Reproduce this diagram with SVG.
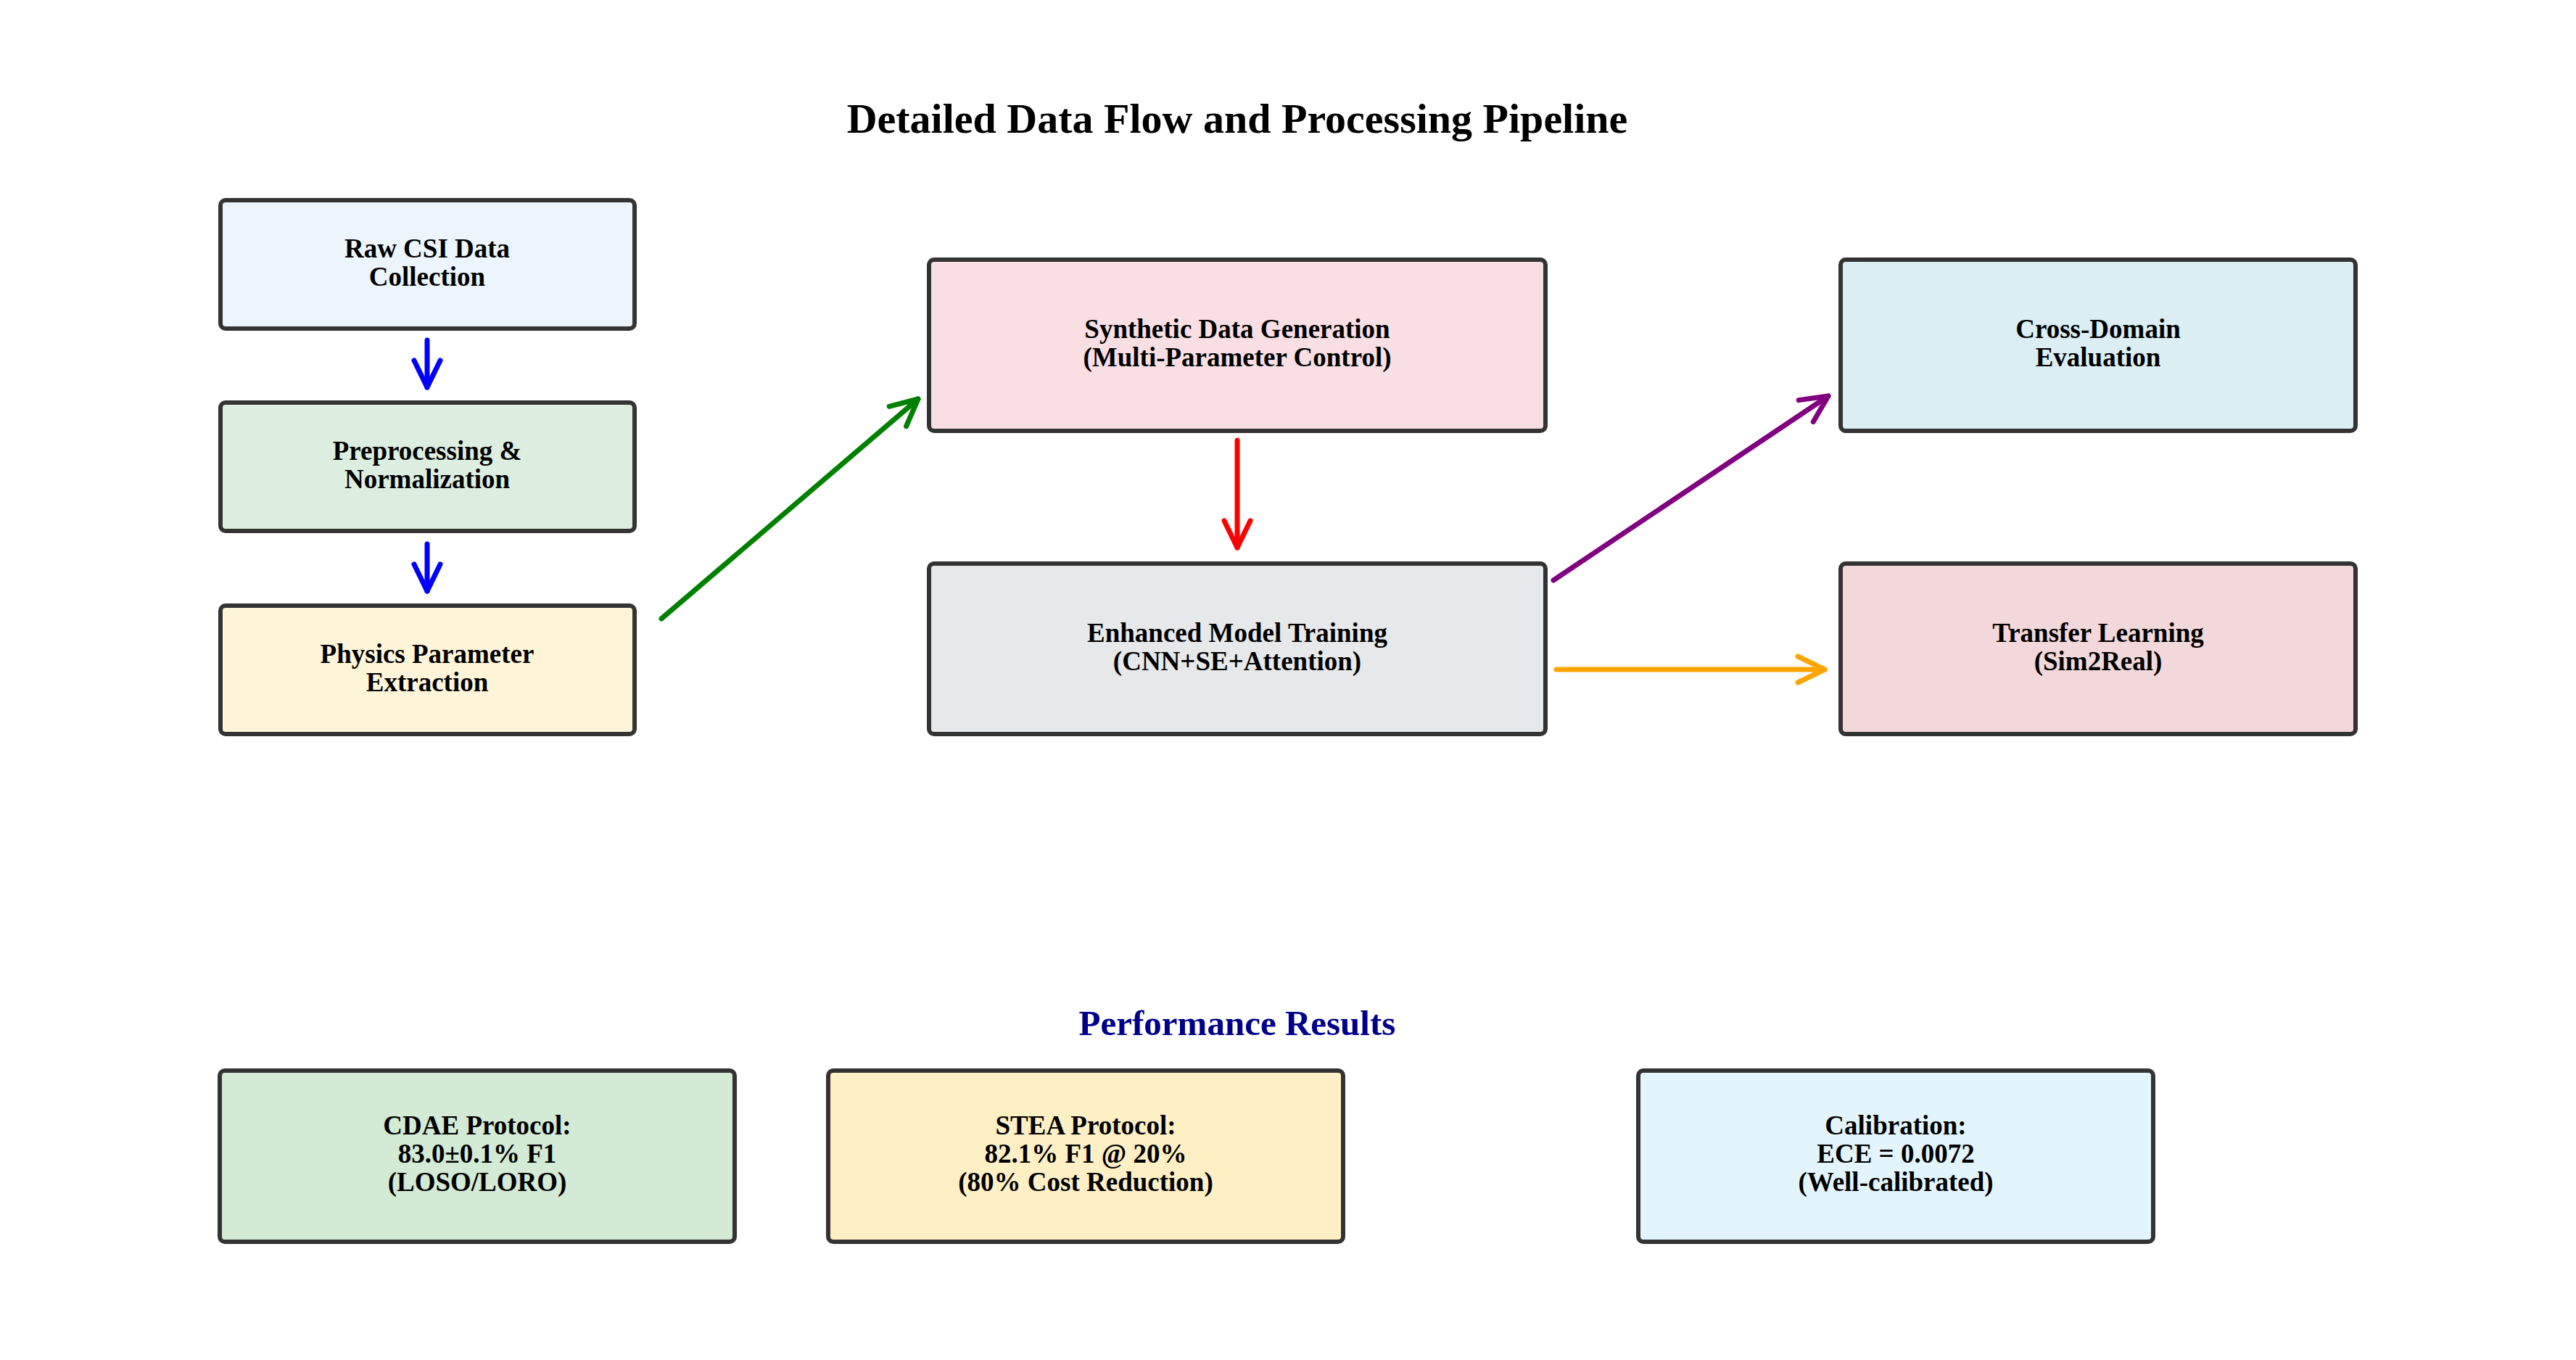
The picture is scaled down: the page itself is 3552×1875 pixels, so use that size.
<svg xmlns="http://www.w3.org/2000/svg" width="3552" height="1875" viewBox="0 0 3552 1875">
<style>
.box{stroke:#333333;stroke-width:6;}
.t{font-family:"Liberation Serif","Times New Roman",serif;font-weight:bold;font-size:37px;fill:#000;text-anchor:middle;}
.title{font-family:"Liberation Serif","Times New Roman",serif;font-weight:bold;font-size:58px;fill:#000;text-anchor:middle;}
.sub{font-family:"Liberation Serif","Times New Roman",serif;font-weight:bold;font-size:49px;fill:#00008B;text-anchor:middle;}
.c{fill:none;stroke-width:7;stroke-linecap:round;stroke-linejoin:round;}
</style>
<defs>
<marker id="hb" markerUnits="userSpaceOnUse" orient="auto" markerWidth="60" markerHeight="60" refX="0" refY="0" viewBox="-45 -30 55 60" overflow="visible"><path d="M-37,-18 L0,0 L-37,18" fill="none" stroke="#0000FF" stroke-width="7" stroke-linecap="round" stroke-linejoin="round"/></marker>
<marker id="hr" markerUnits="userSpaceOnUse" orient="auto" markerWidth="60" markerHeight="60" refX="0" refY="0" viewBox="-45 -30 55 60" overflow="visible"><path d="M-37,-18 L0,0 L-37,18" fill="none" stroke="#FF0000" stroke-width="7" stroke-linecap="round" stroke-linejoin="round"/></marker>
<marker id="hg" markerUnits="userSpaceOnUse" orient="auto" markerWidth="60" markerHeight="60" refX="0" refY="0" viewBox="-45 -30 55 60" overflow="visible"><path d="M-37,-18 L0,0 L-37,18" fill="none" stroke="#008000" stroke-width="7" stroke-linecap="round" stroke-linejoin="round"/></marker>
<marker id="hp" markerUnits="userSpaceOnUse" orient="auto" markerWidth="60" markerHeight="60" refX="0" refY="0" viewBox="-45 -30 55 60" overflow="visible"><path d="M-37,-18 L0,0 L-37,18" fill="none" stroke="#800080" stroke-width="7" stroke-linecap="round" stroke-linejoin="round"/></marker>
<marker id="ho" markerUnits="userSpaceOnUse" orient="auto" markerWidth="60" markerHeight="60" refX="0" refY="0" viewBox="-45 -30 55 60" overflow="visible"><path d="M-37,-18 L0,0 L-37,18" fill="none" stroke="#FFA500" stroke-width="7" stroke-linecap="round" stroke-linejoin="round"/></marker>
</defs>
<rect width="3552" height="1875" fill="#FFFFFF"/>
<text class="title" x="1706" y="183">Detailed Data Flow and Processing Pipeline</text>

<g id="raw-csi">
<rect class="box" x="304" y="276" width="571" height="177" rx="7" fill="#EBF5FB"/>
<text class="t" x="589" y="355">Raw CSI Data</text>
<text class="t" x="589" y="394">Collection</text>
</g>
<g id="preprocessing">
<rect class="box" x="304" y="555" width="571" height="177" rx="7" fill="#DCEEDF"/>
<text class="t" x="589" y="634">Preprocessing &amp;</text>
<text class="t" x="589" y="673">Normalization</text>
</g>
<g id="physics">
<rect class="box" x="304" y="835" width="571" height="177" rx="7" fill="#FEF5D9"/>
<text class="t" x="589" y="914">Physics Parameter</text>
<text class="t" x="589" y="953">Extraction</text>
</g>
<g id="synthetic">
<rect class="box" x="1281" y="358" width="850" height="236" rx="7" fill="#F9DFE3"/>
<text class="t" x="1706" y="466">Synthetic Data Generation</text>
<text class="t" x="1706" y="505">(Multi-Parameter Control)</text>
</g>
<g id="training">
<rect class="box" x="1281" y="777" width="850" height="235" rx="7" fill="#E7E8EA"/>
<text class="t" x="1706" y="885">Enhanced Model Training</text>
<text class="t" x="1706" y="924">(CNN+SE+Attention)</text>
</g>
<g id="cross-domain">
<rect class="box" x="2538" y="358" width="710" height="236" rx="7" fill="#DAEEF3"/>
<text class="t" x="2893" y="466">Cross-Domain</text>
<text class="t" x="2893" y="505">Evaluation</text>
</g>
<g id="transfer">
<rect class="box" x="2538" y="777" width="710" height="235" rx="7" fill="#F2D8DA"/>
<text class="t" x="2893" y="885">Transfer Learning</text>
<text class="t" x="2893" y="924">(Sim2Real)</text>
</g>

<g id="connectors">
<line class="c" stroke="#0000FF" x1="589" y1="469" x2="589" y2="534" marker-end="url(#hb)"/>
<line class="c" stroke="#0000FF" x1="589" y1="750" x2="589" y2="815" marker-end="url(#hb)"/>
<line class="c" stroke="#008000" x1="912" y1="853" x2="1266" y2="550" marker-end="url(#hg)"/>
<line class="c" stroke="#FF0000" x1="1706" y1="607" x2="1706" y2="755" marker-end="url(#hr)"/>
<line class="c" stroke="#800080" x1="2142" y1="800" x2="2521" y2="546" marker-end="url(#hp)"/>
<line class="c" stroke="#FFA500" x1="2146" y1="923" x2="2516" y2="923" marker-end="url(#ho)"/>
</g>

<text class="sub" x="1706" y="1427">Performance Results</text>

<g id="cdae">
<rect class="box" x="303" y="1476" width="710" height="236" rx="7" fill="#D3EAD4"/>
<text class="t" x="658" y="1564">CDAE Protocol:</text>
<text class="t" x="658" y="1603">83.0±0.1% F1</text>
<text class="t" x="658" y="1642">(LOSO/LORO)</text>
</g>
<g id="stea">
<rect class="box" x="1142" y="1476" width="710" height="236" rx="7" fill="#FEEFC5"/>
<text class="t" x="1497" y="1564">STEA Protocol:</text>
<text class="t" x="1497" y="1603">82.1% F1 @ 20%</text>
<text class="t" x="1497" y="1642">(80% Cost Reduction)</text>
</g>
<g id="calibration">
<rect class="box" x="2259" y="1476" width="710" height="236" rx="7" fill="#E3F5FC"/>
<text class="t" x="2614" y="1564">Calibration:</text>
<text class="t" x="2614" y="1603">ECE = 0.0072</text>
<text class="t" x="2614" y="1642">(Well-calibrated)</text>
</g>
</svg>
